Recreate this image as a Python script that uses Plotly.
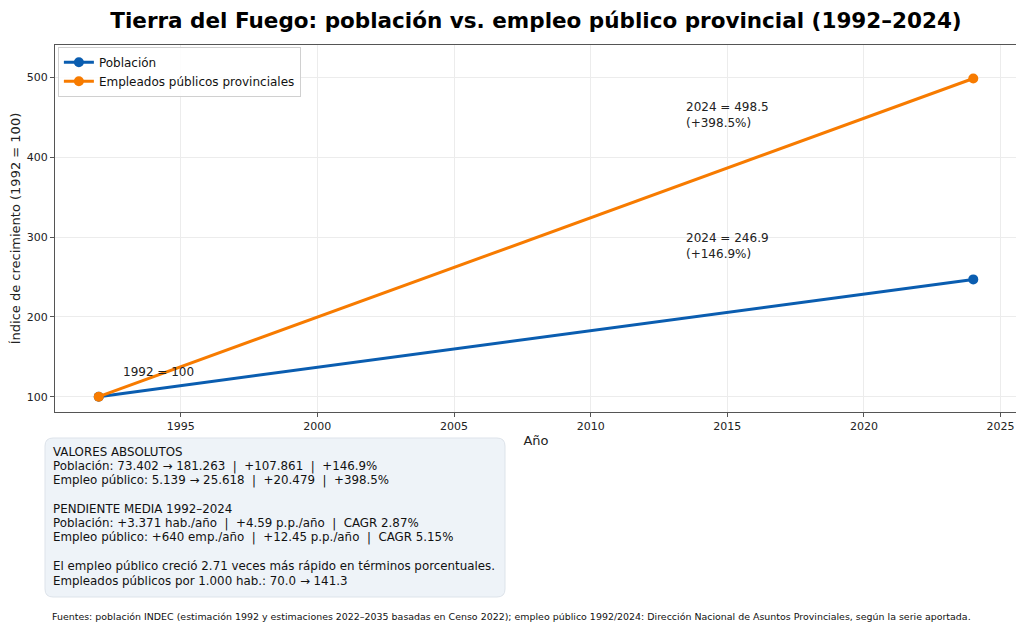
import plotly.graph_objects as go

# ---- data ----
years = [1992, 2024]
poblacion_idx = [100.0, 246.9]
empleo_idx = [100.0, 498.5]
series_names = ["Población", "Empleados públicos provinciales"]

title = "Tierra del Fuego: población vs. empleo público provincial (1992–2024)"
box_lines = [
    "VALORES ABSOLUTOS",
    "Población: 73.402 → 181.263  |  +107.861  |  +146.9%",
    "Empleo público: 5.139 → 25.618  |  +20.479  |  +398.5%",
    "",
    "PENDIENTE MEDIA 1992–2024",
    "Población: +3.371 hab./año  |  +4.59 p.p./año  |  CAGR 2.87%",
    "Empleo público: +640 emp./año  |  +12.45 p.p./año  |  CAGR 5.15%",
    "",
    "El empleo público creció 2.71 veces más rápido en términos porcentuales.",
    "Empleados públicos por 1.000 hab.: 70.0 → 141.3",
]
footer = ("Fuentes: población INDEC (estimación 1992 y estimaciones 2022–2035 basadas en Censo 2022); "
          "empleo público 1992/2024: Dirección Nacional de Asuntos Provinciales, según la serie aportada.")

BLUE = "#0a5db0"
ORANGE = "#f77b00"
FONT = "DejaVu Sans"

# the page shows the figure with an 8px body margin; lay out in reference pixels minus that
OFF = 8
W, H = 1024 - OFF, 629 - OFF
L, R, T, B = 55 - OFF, 1017 - OFF, 45 - OFF, 412 - OFF


def px(xp):
    return (xp - OFF - L) / (R - L)


def py(yp):
    return (B - (yp - OFF)) / (B - T)


fig = go.Figure()
fig.add_trace(go.Scatter(x=years, y=poblacion_idx, mode="lines+markers", name=series_names[0],
                         line=dict(color=BLUE, width=3), marker=dict(size=10, color=BLUE)))
fig.add_trace(go.Scatter(x=years, y=empleo_idx, mode="lines+markers", name=series_names[1],
                         line=dict(color=ORANGE, width=3), marker=dict(size=10, color=ORANGE)))

ann = []
ann.append(dict(x=years[0], y=poblacion_idx[0], xref="x", yref="y", text="1992 = 100",
                showarrow=False, xanchor="left", yanchor="middle", xshift=22, yshift=25,
                font=dict(size=12, color="#222", family=FONT)))
ann.append(dict(x=2013.42, y=empleo_idx[1] - 46, xref="x", yref="y",
                text=f"2024 = {empleo_idx[1]:.1f}<br>(+{empleo_idx[1]-100:.1f}%)",
                showarrow=False, xanchor="left", yanchor="middle", align="left",
                font=dict(size=12, color="#222", family=FONT)))
ann.append(dict(x=2013.42, y=poblacion_idx[1] + 42, xref="x", yref="y",
                text=f"2024 = {poblacion_idx[1]:.1f}<br>(+{poblacion_idx[1]-100:.1f}%)",
                showarrow=False, xanchor="left", yanchor="middle", align="left",
                font=dict(size=12, color="#222", family=FONT)))

line_y0 = 452
for i, t in enumerate(box_lines):
    if not t:
        continue
    ann.append(dict(x=px(51), y=py(line_y0 + i * 14.3), xref="paper", yref="paper", text=t,
                    showarrow=False, xanchor="left", yanchor="middle",
                    font=dict(size=11.85, color="#111", family=FONT)))

ann.append(dict(x=px(50), y=py(616), xref="paper", yref="paper", text=footer, showarrow=False,
                xanchor="left", yanchor="middle", font=dict(size=9.45, color="#111", family=FONT)))

# rounded box
x0, x1, y0, y1 = px(45), px(505), py(438), py(597)
rx = 8 / (R - L)
ry = 8 / (B - T)
path = (f"M {x0+rx},{y0} L {x1-rx},{y0} Q {x1},{y0} {x1},{y0-ry} "
        f"L {x1},{y1+ry} Q {x1},{y1} {x1-rx},{y1} L {x0+rx},{y1} Q {x0},{y1} {x0},{y1+ry} "
        f"L {x0},{y0-ry} Q {x0},{y0} {x0+rx},{y0} Z")

fig.update_layout(
    width=W, height=H,
    margin=dict(l=L, r=W - R, t=T, b=H - B, autoexpand=False),
    paper_bgcolor="white", plot_bgcolor="white",
    font=dict(family=FONT, color="#222", size=11),
    title=dict(text=f"<b>{title}</b>", x=0.5, xref="paper", y=1 - (20 - OFF) / H, yanchor="middle",
               font=dict(size=21.5, color="#000", family=FONT)),
    legend=dict(x=0.003, y=0.995, xanchor="left", yanchor="top", bgcolor="rgba(255,255,255,0.9)",
                bordercolor="#d0d0d0", borderwidth=1, font=dict(size=12, family=FONT, color="#111"),
                itemwidth=30),
    annotations=ann,
    shapes=[dict(type="path", path=path, xref="paper", yref="paper", fillcolor="#eef3f8",
                 line=dict(color="#dde3ea", width=1), layer="below")],
    showlegend=True,
)
fig.update_xaxes(range=[1990.4, 2025.6], tickvals=[1995, 2000, 2005, 2010, 2015, 2020, 2025],
                 automargin=False,
                 showgrid=True, gridcolor="#ececec", gridwidth=1, zeroline=False,
                 showline=True, linecolor="#555", linewidth=1, mirror=True,
                 ticks="outside", ticklen=4, tickcolor="#555",
                 tickfont=dict(size=11, family=FONT, color="#222"),
                 title=dict(text="Año", font=dict(size=13, family=FONT, color="#222"), standoff=3))
fig.update_yaxes(range=[80.8, 540.5], tickvals=[100, 200, 300, 400, 500],
                 automargin=False,
                 showgrid=True, gridcolor="#ececec", gridwidth=1, zeroline=False,
                 showline=True, linecolor="#555", linewidth=1, mirror=True,
                 ticks="outside", ticklen=4, tickcolor="#555",
                 tickfont=dict(size=11, family=FONT, color="#222"),
                 title=dict(text="Índice de crecimiento (1992 = 100)",
                            font=dict(size=13, family=FONT, color="#222"), standoff=8))

fig.write_html("out.html")
